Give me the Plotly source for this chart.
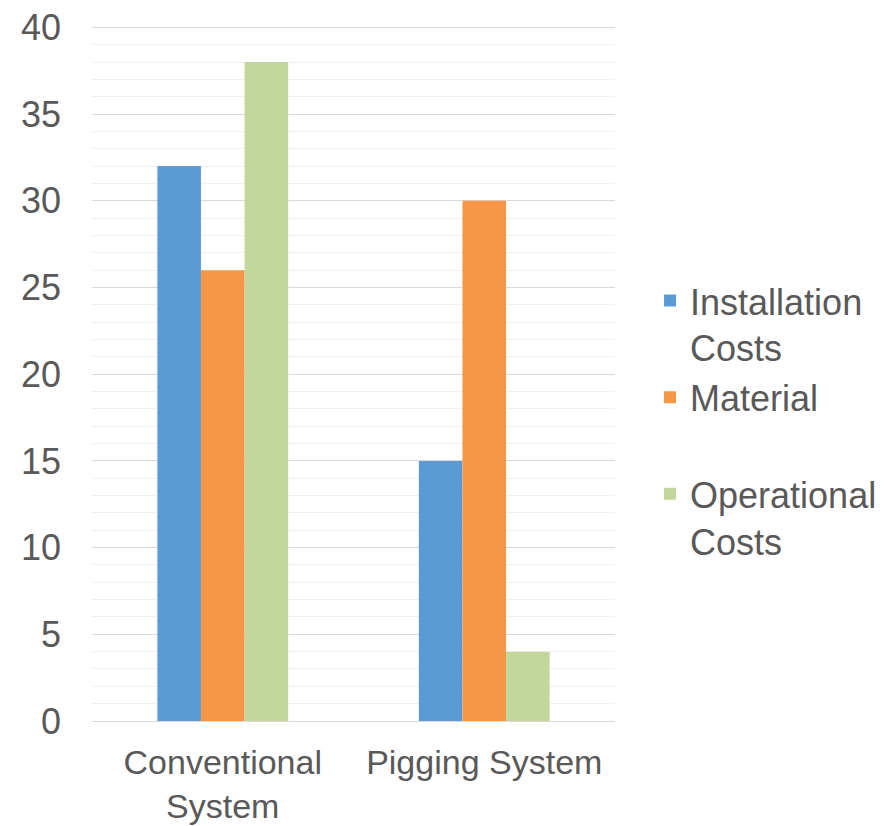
import plotly.graph_objects as go

categories = ["Conventional<br>System", "Pigging System"]
series_names = ["Installation<br>Costs", "Material<br>&nbsp;", "Operational<br>Costs"]
installation = [32, 15]
material = [26, 30]
operational = [38, 4]
colors = ["#5B9BD5", "#F79646", "#C3D69B"]
y_ticks = [0, 5, 10, 15, 20, 25, 30, 35, 40]

FONT = "Liberation Sans, Arial, sans-serif"
TXT = "#595959"

fig = go.Figure()
for name, vals, c in zip(series_names, [installation, material, operational], colors):
    fig.add_trace(go.Bar(x=categories, y=vals, name=name, marker=dict(color=c, line=dict(width=0))))

fig.update_layout(
    width=895, height=826,
    margin=dict(l=92, r=280, t=26, b=105),
    paper_bgcolor="white", plot_bgcolor="white",
    barmode="group", bargap=0.5, bargroupgap=0,
    font=dict(family=FONT, size=36, color=TXT),
    legend=dict(x=1.067, xanchor="left", y=0.648, yanchor="top", valign="top",
                font=dict(family=FONT, size=36, color=TXT), bgcolor="rgba(0,0,0,0)",
                itemclick=False),
    showlegend=True,
)
fig.update_yaxes(range=[0, 40.08], tickvals=y_ticks, showgrid=True, gridcolor="#d9d9d9", gridwidth=1,
                 minor=dict(dtick=1, showgrid=True, gridcolor="#f0f0f0", gridwidth=1),
                 zeroline=False, showline=False, ticks="", ticklabelstandoff=30, automargin=False,
                 tickfont=dict(family=FONT, size=36, color=TXT))
fig.update_xaxes(showline=True, linecolor="#d9d9d9", linewidth=1, ticks="", ticklabelstandoff=11,
                 automargin=False, tickfont=dict(family=FONT, size=34, color=TXT))

fig.write_html("out.html")
